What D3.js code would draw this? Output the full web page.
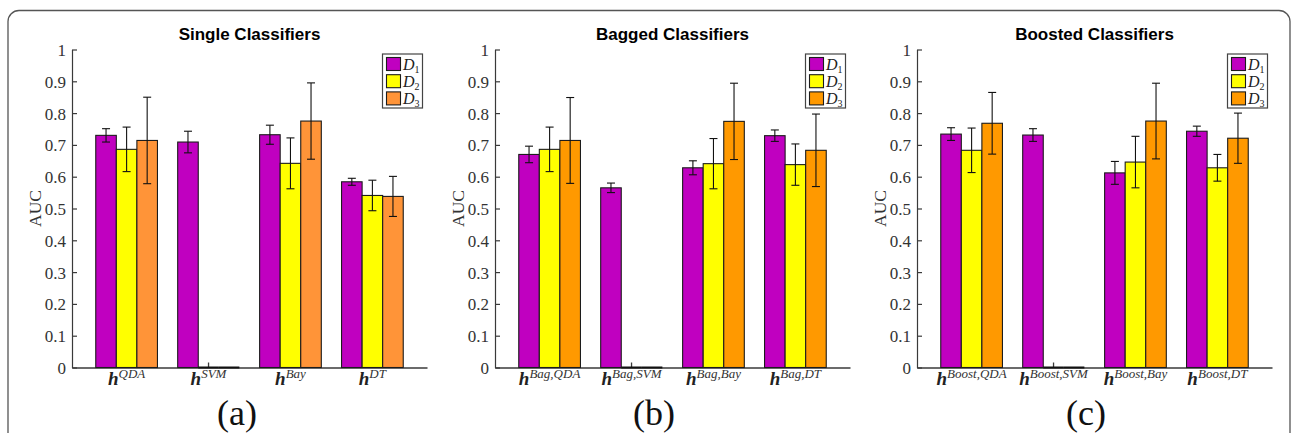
<!DOCTYPE html>
<html>
<head>
<meta charset="utf-8">
<script src="https://cdn.jsdelivr.net/npm/d3@7"></script>
<style>
  body { margin: 0; background: #fff; }
  svg { display: block; }
  .title { font-family: "Liberation Sans", Arial, sans-serif; font-weight: bold; font-size: 17px; }
  .serif { font-family: "Liberation Serif", serif; }
</style>
</head>
<body>
<svg id="chart" width="1292" height="433"></svg>
<script>
// Data
let seriesSubs = ["1", "2", "3"];
let yTicks = [0, 0.1, 0.2, 0.3, 0.4, 0.5, 0.6, 0.7, 0.8, 0.9, 1];

let singleCats = ["QDA", "SVM", "Bay", "DT"];
let singleMean = [[0.730, 0.686, 0.714], [0.709, 0, 0], [0.732, 0.642, 0.775], [0.584, 0.541, 0.538]];
let singleErr = [[0.021, 0.070, 0.136], [0.034, 0, 0], [0.030, 0.080, 0.120], [0.011, 0.048, 0.063]];

let baggedCats = ["Bag,QDA", "Bag,SVM", "Bag,Bay", "Bag,DT"];
let baggedMean = [[0.670, 0.686, 0.714], [0.565, 0, 0], [0.628, 0.641, 0.774], [0.729, 0.638, 0.683]];
let baggedErr = [[0.026, 0.070, 0.135], [0.015, 0, 0], [0.022, 0.079, 0.120], [0.018, 0.065, 0.114]];

let boostedCats = ["Boost,QDA", "Boost,SVM", "Boost,Bay", "Boost,DT"];
let boostedMean = [[0.734, 0.683, 0.768], [0.731, 0, 0], [0.612, 0.646, 0.775], [0.743, 0.628, 0.721]];
let boostedErr = [[0.020, 0.070, 0.097], [0.020, 0, 0], [0.036, 0.081, 0.119], [0.016, 0.042, 0.079]];

// Panel settings
let panels = [
  { title: "Single Classifiers", tag: "(a)", left: 72, tagX: 237, cats: singleCats, mean: singleMean, err: singleErr,
    colors: ["#c000c0", "#ffff00", "#ff9438"] },
  { title: "Bagged Classifiers", tag: "(b)", left: 495, tagX: 654, cats: baggedCats, mean: baggedMean, err: baggedErr,
    colors: ["#c000c0", "#ffff00", "#ff9900"] },
  { title: "Boosted Classifiers", tag: "(c)", left: 917, tagX: 1086, cats: boostedCats, mean: boostedMean, err: boostedErr,
    colors: ["#c000c0", "#ffff00", "#ff9900"] }
];

let svg = d3.select("#chart");
let axisW = 355, yTop = 49.5, yZero = 367.5;
let axisColor = "#3a3a3a", edgeColor = "#1c1c1c";

// outer frame of the figure
svg.append("rect")
  .attr("x", 8).attr("y", 10.5)
  .attr("width", 1282).attr("height", 500)
  .attr("rx", 11)
  .attr("fill", "none")
  .attr("stroke", "#555").attr("stroke-width", 1.3);

let y = d3.scaleLinear().domain([0, 1]).range([yZero, yTop]);

function drawPanel(p) {
  let g = svg.append("g");
  let right = p.left + axisW;

  let x0 = d3.scaleBand()
    .domain(p.cats)
    .range([p.left, right])
    .paddingInner(0.247)
    .paddingOuter(0.29);
  let x1 = d3.scaleBand()
    .domain(seriesSubs)
    .range([0, x0.bandwidth()]);

  // title
  g.append("text")
    .attr("class", "title")
    .attr("x", p.left + axisW / 2)
    .attr("y", 40)
    .attr("text-anchor", "middle")
    .text(p.title);

  // x axis (ticks inside, drawn under the bars)
  let xAxis = d3.axisBottom(x0).tickSizeInner(-5).tickSizeOuter(0).tickFormat("");
  let gx = g.append("g")
    .attr("transform", `translate(0,${yZero})`)
    .call(xAxis);
  gx.selectAll("path, line").attr("stroke", axisColor).attr("stroke-width", 1.3);

  // bars
  let groups = g.append("g").selectAll("g")
    .data(p.cats)
    .join("g")
    .attr("transform", d => `translate(${x0(d)},0)`);

  groups.each(function(cat, i) {
    let gg = d3.select(this);
    seriesSubs.forEach((s, j) => {
      let v = p.mean[i][j];
      if (v > 0) {
        gg.append("rect")
          .attr("x", x1(s))
          .attr("y", y(v))
          .attr("width", x1.bandwidth())
          .attr("height", y(0) - y(v))
          .attr("fill", p.colors[j])
          .attr("stroke", edgeColor)
          .attr("stroke-width", 1.1);
      } else {
        gg.append("line")
          .attr("x1", x1(s)).attr("x2", x1(s) + x1.bandwidth())
          .attr("y1", y(0)).attr("y2", y(0))
          .attr("stroke", "#111").attr("stroke-width", 2);
      }
    });
    // error bars
    seriesSubs.forEach((s, j) => {
      let v = p.mean[i][j], e = p.err[i][j];
      if (v <= 0) return;
      let cx = x1(s) + x1.bandwidth() / 2;
      let eb = gg.append("g").attr("stroke", "#111").attr("stroke-width", 1.1);
      eb.append("line").attr("x1", cx).attr("x2", cx).attr("y1", y(v + e)).attr("y2", y(v - e));
      eb.append("line").attr("x1", cx - 4).attr("x2", cx + 4).attr("y1", y(v + e)).attr("y2", y(v + e));
      eb.append("line").attr("x1", cx - 4).attr("x2", cx + 4).attr("y1", y(v - e)).attr("y2", y(v - e));
    });
  });

  // y axis
  let yAxis = d3.axisLeft(y)
    .tickValues(yTicks)
    .tickSizeInner(-5)
    .tickSizeOuter(0)
    .tickPadding(6)
    .tickFormat(d => (d === 0 || d === 1) ? String(d) : d3.format(".1f")(d));
  let gy = g.append("g")
    .attr("transform", `translate(${p.left},0)`)
    .call(yAxis)
    .attr("font-family", "Liberation Serif, serif")
    .attr("font-size", 17);
  gy.selectAll("path, line").attr("stroke", axisColor).attr("stroke-width", 1.2);
  gy.selectAll("text").attr("fill", "#333").attr("dy", "0.35em");

  // y label
  g.append("text")
    .attr("class", "serif")
    .attr("transform", `translate(${p.left - 31},${(yTop + yZero) / 2}) rotate(-90)`)
    .attr("text-anchor", "middle")
    .attr("font-size", 17.5)
    .attr("fill", "#333")
    .text("AUC");

  // x tick labels: bold italic h with superscript
  let lab = g.append("g").selectAll("text")
    .data(p.cats)
    .join("text")
    .attr("class", "serif")
    .attr("x", d => x0(d) + x0.bandwidth() / 2)
    .attr("y", 385)
    .attr("text-anchor", "middle")
    .attr("fill", "#222");
  lab.append("tspan")
    .attr("font-weight", "bold").attr("font-style", "italic")
    .attr("font-size", 19)
    .text("h");
  lab.append("tspan")
    .attr("font-style", "italic")
    .attr("font-size", 13)
    .attr("dy", -7)
    .attr("fill", "#333")
    .text(d => d);

  // legend
  let lw = 40, lh = 54;
  let lx = right - 4.5 - lw, ly = yTop + 4.5;
  let leg = g.append("g").attr("transform", `translate(${lx},${ly})`);
  leg.append("rect")
    .attr("width", lw).attr("height", lh)
    .attr("fill", "#fff")
    .attr("stroke", "#444").attr("stroke-width", 1.2);
  let item = leg.selectAll("g.item")
    .data(seriesSubs)
    .join("g")
    .attr("class", "item")
    .attr("transform", (d, i) => `translate(4,${3.5 + i * 17.2})`);
  item.append("rect")
    .attr("width", 14).attr("height", 13)
    .attr("fill", (d, i) => p.colors[i])
    .attr("stroke", edgeColor).attr("stroke-width", 1.1);
  let lt = item.append("text")
    .attr("class", "serif")
    .attr("x", 16.5).attr("y", 12)
    .attr("fill", "#222");
  lt.append("tspan").attr("font-style", "italic").attr("font-size", 16).text("D");
  lt.append("tspan").attr("font-size", 10).attr("dy", 3).text(d => d);

  // panel tag
  g.append("text")
    .attr("class", "serif")
    .attr("x", p.tagX)
    .attr("y", 425)
    .attr("text-anchor", "middle")
    .attr("font-size", 36)
    .attr("fill", "#111")
    .text(p.tag);
}

panels.forEach(drawPanel);
</script>
</body>
</html>
